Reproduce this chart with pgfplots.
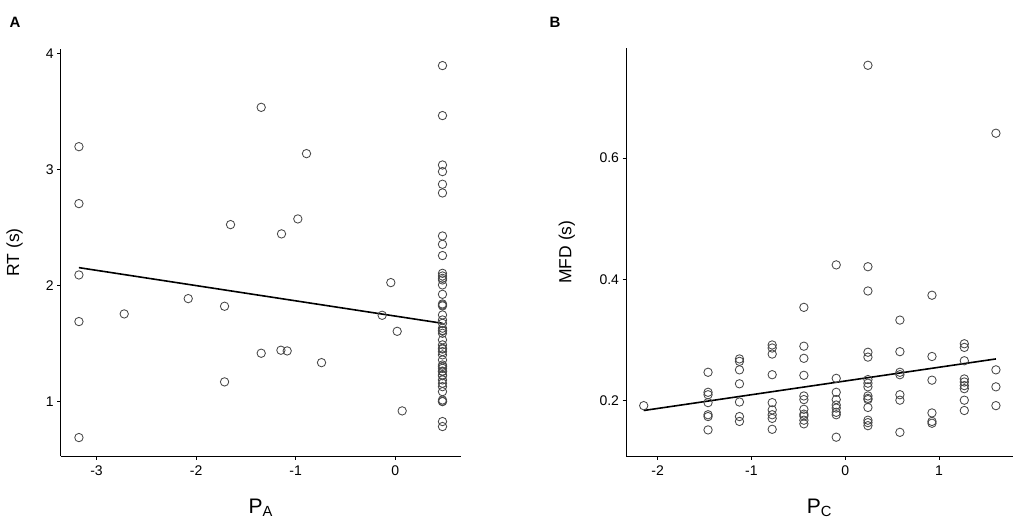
\documentclass[border=0pt]{standalone}
\usepackage{pgfplots}
\pgfplotsset{compat=1.18}
\usepackage{fontspec}
\setmainfont{Liberation Sans}
\setsansfont{Liberation Sans}
\begin{document}
\begin{tikzpicture}[x=1pt,y=1pt]
\useasboundingbox (0,0) rectangle (1021,528);
\pgfplotsset{
  panel/.style={
    scale only axis,
    axis lines*=left,
    axis line style={line width=1pt,black},
    tick align=outside,
    major tick length=3.5pt,
    tick style={line width=0.9pt,black},
    every tick label/.style={font=\fontsize{14}{16}\selectfont},
    xticklabel style={yshift=-3pt},
    /pgf/number format/assume math mode=true,
    xlabel style={font=\fontsize{21}{23}\selectfont, at={(axis description cs:0.5,0)}, anchor=center, yshift=-52pt},
    ylabel style={font=\fontsize{17.5}{20}\selectfont, anchor=center},
    clip=false,
  },
  pts/.style={only marks, mark=o, mark size=4.2pt, mark options={draw=black!72, line width=0.85pt}},
  fit/.style={no marks, line width=1.6pt, black},
}
\node[font=\bfseries\fontsize{15}{17}\selectfont] at (15,506) {A};
\node[font=\bfseries\fontsize{15}{17}\selectfont] at (555,506) {B};

\begin{axis}[panel,
  at={(60.7pt,72pt)}, anchor=south west,
  width=400.3pt, height=407pt,
  xmin=-3.36, xmax=0.661, ymin=0.528, ymax=4.037,
  xtick={-3,-2,-1,0}, ytick={1,2,3,4},
  xlabel={P\textsubscript{A}}, ylabel={RT (s)},
  ylabel style={at={(axis description cs:-0.115,0.5)}},
]
\addplot[pts] coordinates {
(-3.177,3.195) (-3.177,2.704) (-3.177,2.089) (-3.177,1.687) (-3.177,0.687)
(-2.722,1.753) (-2.079,1.885) (-1.714,1.819) (-1.714,1.167) (-1.654,2.523)
(-1.346,3.534) (-1.346,1.414) (-1.142,2.443) (-1.148,1.440) (-1.085,1.434)
(-0.978,2.572) (-0.891,3.135) (-0.740,1.333) (-0.131,1.741) (-0.044,2.023)
(0.020,1.603) (0.070,0.917)
(0.475,3.894) (0.475,3.463) (0.475,3.037) (0.475,2.980) (0.475,2.871)
(0.475,2.796) (0.475,2.425) (0.475,2.353) (0.475,2.256) (0.475,2.103)
(0.475,2.080) (0.475,2.060) (0.475,2.046) (0.475,2.003) (0.475,1.922)
(0.475,1.839) (0.475,1.830) (0.475,1.822) (0.475,1.744) (0.475,1.701)
(0.475,1.672) (0.475,1.630) (0.475,1.610) (0.475,1.606) (0.475,1.586)
(0.475,1.529) (0.475,1.486) (0.475,1.457) (0.475,1.450) (0.475,1.428)
(0.475,1.400) (0.475,1.356) (0.475,1.313) (0.475,1.300) (0.475,1.284)
(0.475,1.260) (0.475,1.256) (0.475,1.227) (0.475,1.220) (0.475,1.184)
(0.475,1.155) (0.475,1.126) (0.475,1.083) (0.475,1.011) (0.475,1.000)
(0.475,0.997) (0.475,0.825) (0.475,0.782)
};
\addplot[fit] coordinates {(-3.177,2.152) (0.475,1.672)};
\end{axis}

\begin{axis}[panel,
  at={(626pt,72pt)}, anchor=south west,
  width=386.7pt, height=407.7pt,
  xmin=-2.338, xmax=1.786, ymin=0.109, ymax=0.781,
  xtick={-2,-1,0,1}, ytick={0.2,0.4,0.6},
  yticklabel style={/pgf/number format/.cd, fixed, fixed zerofill, precision=1},
  xlabel={P\textsubscript{C}}, ylabel={MFD (s)},
  ylabel style={at={(axis description cs:-0.153,0.5)}},
]
\addplot[pts] coordinates {
(-2.149,0.192)
(-1.463,0.247) (-1.463,0.214) (-1.463,0.210) (-1.463,0.197) (-1.463,0.177) (-1.463,0.174) (-1.463,0.152)
(-1.128,0.269) (-1.128,0.265) (-1.128,0.251) (-1.128,0.228) (-1.128,0.198) (-1.128,0.174) (-1.128,0.166)
(-0.779,0.292) (-0.779,0.287) (-0.779,0.277) (-0.779,0.243) (-0.779,0.197) (-0.779,0.185) (-0.779,0.177) (-0.779,0.171) (-0.779,0.153)
(-0.441,0.354) (-0.441,0.290) (-0.441,0.270) (-0.441,0.242) (-0.441,0.208) (-0.441,0.202) (-0.441,0.186) (-0.441,0.178) (-0.441,0.175) (-0.441,0.168) (-0.441,0.162)
(-0.096,0.424) (-0.096,0.237) (-0.096,0.214) (-0.096,0.202) (-0.096,0.193) (-0.096,0.188) (-0.096,0.181) (-0.096,0.177) (-0.096,0.140)
(0.242,0.753) (0.242,0.421) (0.242,0.381) (0.242,0.280) (0.242,0.272) (0.242,0.235) (0.242,0.229) (0.242,0.223) (0.242,0.208) (0.242,0.204) (0.242,0.202) (0.242,0.189) (0.242,0.168) (0.242,0.164) (0.242,0.159)
(0.583,0.333) (0.583,0.281) (0.583,0.247) (0.583,0.243) (0.583,0.210) (0.583,0.201) (0.583,0.148)
(0.925,0.374) (0.925,0.273) (0.925,0.234) (0.925,0.180) (0.925,0.166) (0.925,0.163)
(1.270,0.294) (1.270,0.288) (1.270,0.266) (1.270,0.236) (1.270,0.231) (1.270,0.225) (1.270,0.220) (1.270,0.201) (1.270,0.184)
(1.607,0.641) (1.607,0.251) (1.607,0.223) (1.607,0.192)
};
\addplot[fit] coordinates {(-2.149,0.184) (1.607,0.269)};
\end{axis}
\end{tikzpicture}
\end{document}
